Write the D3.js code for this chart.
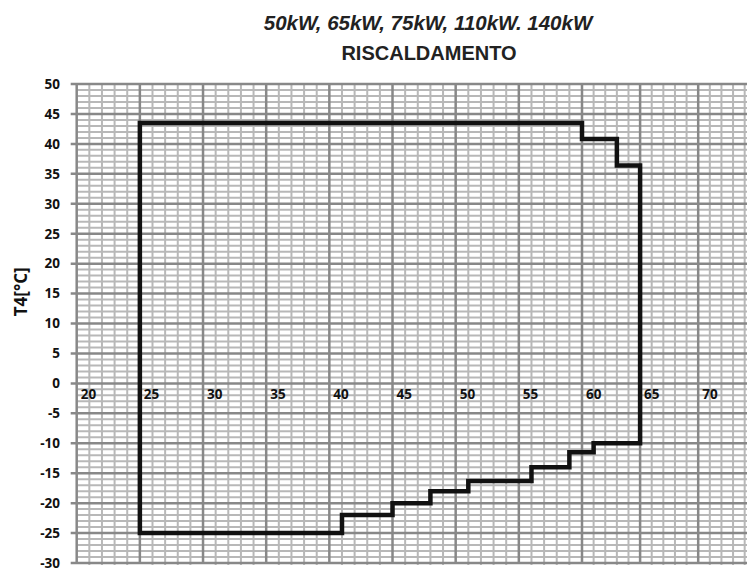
<!DOCTYPE html>
<html>
<head>
<meta charset="utf-8">
<script src="https://cdn.jsdelivr.net/npm/d3@7"></script>
<style>
  html, body { margin: 0; padding: 0; background: #fff; }
  svg { display: block; }
</style>
</head>
<body>
<svg id="chart" width="747" height="584"></svg>
<script>
// ---- Data ----
const titleLine1 = "50kW, 65kW, 75kW, 110kW. 140kW";
const titleLine2 = "RISCALDAMENTO";
const yAxisTitle = "T4[°C]";
const xTickValues = [20, 25, 30, 35, 40, 45, 50, 55, 60, 65, 70];
const yTickValues = [50, 45, 40, 35, 30, 25, 20, 15, 10, 5, 0, -5, -10, -15, -20, -25, -30];
// Operating envelope (x = water temperature, y = T4 outdoor temperature)
const envelopeX = [25, 25, 60, 60, 63, 63, 65, 65, 61, 61, 59, 59, 56, 56, 51, 51, 48, 48, 45, 45, 41, 41];
const envelopeY = [-25, 43.5, 43.5, 40.8, 40.8, 36.4, 36.4, -10, -10, -11.5, -11.5, -14, -14, -16.3, -16.3, -18, -18, -20, -20, -22, -22, -25];

// ---- Scales ----
const svg = d3.select("#chart");
const x = d3.scaleLinear().domain([20, 60, 74.2]).range([76.7, 582, 747]);
const y = d3.scaleLinear().domain([-30, 50]).range([563, 84]);

const xMin = 20, xMax = 74, yMin = -30, yMax = 50;
const labelFont = "'Open Sans', 'DejaVu Sans', sans-serif";

// minor grid
const gMinor = svg.append("g");
gMinor.selectAll("line.vx").data(d3.range(xMin, xMax + 1, 1).filter(v => v % 5 !== 0))
  .join("line")
  .attr("x1", d => x(d)).attr("x2", d => x(d))
  .attr("y1", y(yMax)).attr("y2", y(yMin) + 2)
  .attr("stroke", "#b8b8b8").attr("stroke-width", 2);
gMinor.selectAll("line.hy").data(d3.range(yMin, yMax + 1, 1).filter(v => v % 5 !== 0))
  .join("line")
  .attr("x1", x(xMin)).attr("x2", 747)
  .attr("y1", d => y(d)).attr("y2", d => y(d))
  .attr("stroke", "#b8b8b8").attr("stroke-width", 2);

// major grid
const gMajor = svg.append("g");
gMajor.selectAll("line").data(d3.range(xMin, xMax + 1, 5))
  .join("line")
  .attr("x1", d => x(d)).attr("x2", d => x(d))
  .attr("y1", y(yMax)).attr("y2", y(yMin) + 1)
  .attr("stroke", "#888").attr("stroke-width", 2.5);
svg.append("g").selectAll("line").data(yTickValues)
  .join("line")
  .attr("x1", x(xMin) - 6).attr("x2", 747)
  .attr("y1", d => y(d)).attr("y2", d => y(d))
  .attr("stroke", "#888").attr("stroke-width", 2.5);

// y tick labels
svg.append("g").selectAll("text").data(yTickValues)
  .join("text")
  .attr("x", 60).attr("y", d => y(d)).attr("dy", "0.36em")
  .attr("text-anchor", "end")
  .attr("font-family", labelFont)
  .attr("font-weight", 700).attr("font-size", 13.5)
  .attr("fill", "#111")
  .text(d => d);

// x tick labels (placed just under the 0 line, right of each major line)
svg.append("g").selectAll("text").data(xTickValues)
  .join("text")
  .attr("x", d => x(d) + 4).attr("y", y(0) + 16)
  .attr("font-family", labelFont)
  .attr("font-weight", 700).attr("font-size", 13.5)
  .attr("fill", "#111")
  .text(d => d);

// y axis title
svg.append("text")
  .attr("transform", `translate(27, ${y(15.3)}) rotate(-90)`)
  .attr("text-anchor", "middle")
  .attr("font-family", labelFont)
  .attr("font-weight", 700).attr("font-size", 17)
  .attr("fill", "#111")
  .text(yAxisTitle);

// titles
svg.append("text")
  .attr("x", 428).attr("y", 30)
  .attr("text-anchor", "middle")
  .attr("font-family", "'Liberation Sans', Arial, Helvetica, sans-serif")
  .attr("font-weight", 700).attr("font-style", "italic").attr("font-size", 20.5)
  .attr("fill", "#222")
  .text(titleLine1);
svg.append("text")
  .attr("x", 429).attr("y", 60)
  .attr("text-anchor", "middle")
  .attr("font-family", "'Liberation Sans', Arial, Helvetica, sans-serif")
  .attr("font-weight", 700).attr("font-size", 20)
  .attr("fill", "#222")
  .text(titleLine2);

// envelope
const pts = envelopeX.map((v, i) => [x(v), y(envelopeY[i])]);
svg.append("path")
  .attr("d", d3.line()(pts) + "Z")
  .attr("fill", "none")
  .attr("stroke", "#111")
  .attr("stroke-width", 4.5)
  .attr("stroke-linejoin", "miter");
</script>
</body>
</html>
